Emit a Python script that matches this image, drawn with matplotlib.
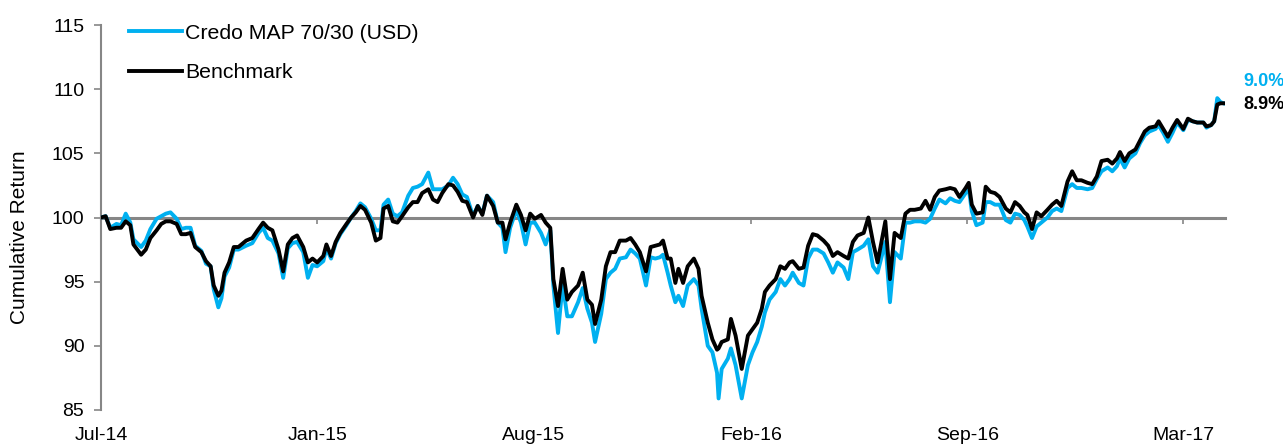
import matplotlib
matplotlib.use("Agg")
import matplotlib.pyplot as plt

plt.rcParams['font.family'] = ['Liberation Sans', 'DejaVu Sans']

# trading-day index of each reading
day = [0, 3, 6, 10, 13, 16, 19, 21, 26, 29, 32, 36, 39, 42, 45, 49, 52, 55, 58, 61,
       65, 68, 71, 73, 76, 78, 80, 83, 86, 89, 94, 98, 102, 105, 108, 111, 115, 118, 121, 124,
       127, 131, 134, 137, 140, 144, 146, 149, 152, 155, 159, 162, 165, 168, 171, 175, 178, 181, 183, 186,
       189, 192, 195, 199, 202, 205, 208, 212, 215, 218, 221, 225, 228, 231, 234, 237, 241, 244, 247, 250,
       254, 257, 260, 262, 265, 269, 272, 275, 278, 281, 285, 288, 291, 293, 296, 299, 302, 305, 309, 312,
       315, 318, 320, 324, 327, 330, 333, 336, 340, 343, 346, 349, 353, 356, 359, 362, 364, 367, 369, 372,
       374, 377, 380, 384, 387, 389, 393, 396, 399, 400, 402, 406, 408, 411, 415, 419, 422, 425, 428, 430,
       433, 437, 440, 443, 446, 448, 452, 455, 458, 461, 464, 468, 471, 474, 477, 481, 484, 487, 490, 494,
       497, 500, 503, 508, 511, 514, 518, 521, 524, 527, 531, 534, 537, 540, 543, 547, 550, 553, 556, 560,
       562, 564, 567, 571, 573, 576, 579, 582, 586, 589, 592, 595, 598, 600, 603, 606, 609, 613, 616, 619,
       622, 626, 629, 632, 635, 639, 642, 645, 648, 652, 655, 658, 660, 663, 666, 670, 673, 676, 679, 683,
       685, 688, 691, 694, 697, 701, 704, 707, 710, 714, 716, 719, 721, 723, 725, 727]

bench = [100.0, 100.1, 99.1, 99.2, 99.2, 99.7, 99.4, 97.9, 97.1, 97.5, 98.4, 99.0, 99.5, 99.7, 99.7, 99.5, 98.7, 98.7, 98.8, 97.7,
         97.3, 96.6, 96.2, 94.7, 93.9, 94.3, 95.7, 96.5, 97.7, 97.7, 98.2, 98.4, 99.1, 99.6, 99.2, 99.0, 97.5, 95.8, 97.9, 98.4,
         98.6, 97.7, 96.5, 96.8, 96.5, 97.0, 97.9, 97.0, 98.1, 98.8, 99.5, 100.0, 100.4, 100.9, 100.6, 99.6, 98.2, 98.4, 100.7, 100.9,
         99.7, 99.6, 100.1, 100.8, 101.2, 101.2, 101.9, 102.2, 101.4, 101.2, 101.9, 102.6, 102.5, 102.0, 101.3, 101.2, 100.0, 100.9, 100.2, 101.7,
         100.9, 99.6, 99.6, 98.3, 99.6, 101.0, 100.2, 99.0, 100.3, 99.9, 100.2, 99.6, 99.2, 95.2, 93.1, 96.0, 93.6, 94.2, 94.7, 95.7,
         93.6, 93.2, 91.7, 93.6, 96.2, 97.3, 97.3, 98.2, 98.2, 98.4, 97.9, 97.3, 95.8, 97.7, 97.8, 97.9, 98.2, 96.8, 96.8, 94.9,
         96.0, 94.9, 96.2, 96.8, 96.0, 93.9, 91.8, 90.5, 89.7, 89.8, 90.3, 90.5, 92.1, 90.8, 88.2, 90.8, 91.3, 91.8, 92.9, 94.2,
         94.7, 95.2, 96.2, 96.0, 96.5, 96.6, 96.0, 96.1, 97.8, 98.7, 98.6, 98.2, 97.8, 97.0, 97.3, 97.0, 96.8, 98.1, 98.6, 98.8,
         100.0, 98.1, 96.5, 99.7, 95.2, 98.8, 98.4, 100.3, 100.6, 100.6, 100.7, 101.3, 100.6, 101.6, 102.1, 102.2, 102.3, 102.2, 101.6, 102.3,
         102.7, 101.0, 100.3, 100.4, 102.4, 102.0, 101.9, 101.6, 100.7, 100.4, 101.2, 100.9, 100.4, 100.2, 99.1, 100.4, 100.1, 100.6, 101.0, 101.3,
         100.9, 102.8, 103.6, 102.9, 102.9, 102.7, 102.6, 103.2, 104.4, 104.5, 104.2, 104.6, 105.1, 104.4, 105.0, 105.3, 106.0, 106.7, 107.0, 107.1,
         107.5, 106.9, 106.3, 107.0, 107.6, 106.9, 107.7, 107.5, 107.4, 107.4, 107.1, 107.2, 107.5, 108.8, 108.9, 108.9]

credo = [100.0, 100.1, 99.2, 99.5, 99.4, 100.3, 99.6, 98.3, 97.7, 98.2, 99.1, 99.9, 100.1, 100.3, 100.4, 99.9, 99.1, 99.2, 99.2, 97.8,
         97.4, 96.4, 96.2, 94.4, 93.0, 93.7, 95.4, 96.1, 97.5, 97.5, 97.8, 98.0, 98.8, 99.2, 98.4, 98.2, 97.2, 95.3, 97.6, 98.0,
         98.1, 97.3, 95.3, 96.3, 96.2, 96.6, 97.6, 96.8, 98.0, 98.7, 99.4, 100.0, 100.5, 101.1, 100.8, 99.9, 99.0, 99.0, 101.0, 101.4,
         100.3, 100.1, 100.4, 101.7, 102.3, 102.4, 102.6, 103.5, 102.2, 102.2, 102.2, 102.5, 103.1, 102.6, 101.8, 101.6, 100.1, 100.9, 100.3, 101.7,
         101.2, 99.6, 99.2, 97.3, 99.2, 100.6, 99.6, 97.9, 99.6, 99.6, 98.8, 97.9, 99.0, 94.7, 91.0, 94.8, 92.3, 92.3, 93.4, 94.5,
         92.9, 91.8, 90.3, 92.5, 95.2, 95.7, 96.0, 96.8, 96.9, 97.5, 97.2, 96.8, 94.7, 96.9, 96.8, 96.9, 97.1, 95.7, 94.7, 93.4,
         93.9, 93.1, 94.7, 95.2, 94.7, 92.9, 90.0, 89.5, 87.9, 85.9, 88.2, 89.0, 89.8, 88.5, 85.9, 88.5, 89.5, 90.3, 91.5, 92.6,
         93.6, 94.2, 95.2, 94.7, 95.2, 95.7, 94.9, 94.7, 96.8, 97.5, 97.5, 97.2, 96.5, 95.7, 96.5, 96.1, 95.2, 97.3, 97.5, 97.8,
         98.3, 96.2, 95.7, 98.1, 93.4, 97.3, 96.8, 99.6, 99.6, 99.7, 99.7, 99.6, 99.9, 100.7, 101.4, 101.1, 101.5, 101.3, 101.2, 101.9,
         102.3, 100.5, 99.4, 99.6, 101.2, 101.2, 101.0, 101.0, 99.8, 99.6, 100.3, 100.2, 99.8, 99.3, 98.4, 99.3, 99.6, 100.0, 100.5, 100.7,
         100.5, 102.3, 102.6, 102.3, 102.3, 102.2, 102.3, 103.0, 103.6, 103.9, 103.6, 104.0, 104.6, 103.9, 104.6, 105.0, 105.8, 106.4, 106.7, 106.9,
         107.2, 106.6, 105.9, 106.6, 107.4, 106.8, 107.6, 107.5, 107.4, 107.4, 107.0, 107.2, 107.5, 109.3, 109.0, 108.9]

tick_days = [0, 140, 280, 421, 561, 701]
tick_labels = ['Jul-14', 'Jan-15', 'Aug-15', 'Feb-16', 'Sep-16', 'Mar-17']
end_labels = ['9.0%', '8.9%']

blue = '#00B0F0'
grey = '#868686'

fig = plt.figure(figsize=(12.83, 4.45), dpi=100)
ax = fig.add_axes([101/1283, 35/445, 1124/1283, 385/445])

ax.plot(day, credo, color=blue, lw=2.8, label='Credo MAP 70/30 (USD)', zorder=3)
ax.plot(day, bench, color='black', lw=2.8, label='Benchmark', zorder=4)

ax.set_xlim(0, 728)
ax.set_ylim(85, 115)
ax.set_yticks([85, 90, 95, 100, 105, 110, 115])

for s in ['top', 'right']:
    ax.spines[s].set_visible(False)
ax.spines['left'].set_color(grey)
ax.spines['left'].set_linewidth(1.5)
# the horizontal axis crosses at 100
ax.spines['bottom'].set_position(('data', 100))
ax.spines['bottom'].set_color(grey)
ax.spines['bottom'].set_linewidth(2.2)
ax.spines['bottom'].set_zorder(1)
ax.set_xticks(tick_days)
ax.tick_params(axis='x', direction='out', length=4, width=1.2, color=grey, labelbottom=False)
ax.tick_params(axis='y', direction='out', length=5, width=1.2, color=grey, labelsize=14, pad=7)

# labels sit low, below the plot
sec = ax.secondary_xaxis('bottom')
sec.set_xticks(tick_days)
sec.set_xticklabels(tick_labels)
sec.tick_params(length=0, labelsize=14, pad=12)
sec.spines['bottom'].set_visible(False)

ax.set_ylabel('Cumulative Return', fontsize=15)
ax.yaxis.set_label_coords(-0.064, 0.45)

ax.legend(loc='upper left', bbox_to_anchor=(0.0173, 1.025), frameon=False, fontsize=15.3,
          handlelength=2.5, handletextpad=0.15, labelspacing=0.95, borderaxespad=0)

ax.text(740, 110.6, end_labels[0], color=blue, fontsize=13, fontweight='bold',
        va='center', ha='left', clip_on=False)
ax.text(740, 108.8, end_labels[1], color='black', fontsize=13, fontweight='bold',
        va='center', ha='left', clip_on=False)

fig.savefig('out.png', dpi=100)
